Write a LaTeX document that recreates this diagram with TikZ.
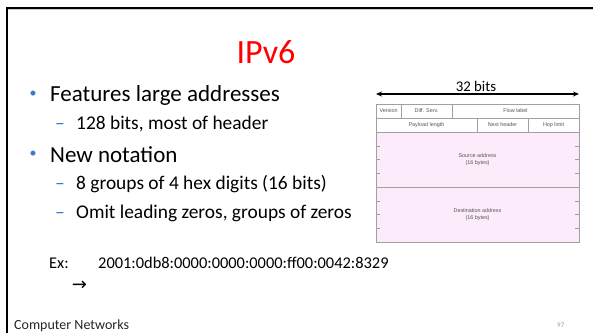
\documentclass[tikz,border=0pt]{standalone}
\usepackage{fontspec}
\setmainfont{Carlito}
\newfontfamily\arialf{Liberation Sans}
\newfontfamily\symf{DejaVu Sans}
\usetikzlibrary{arrows.meta,calc}
\definecolor{bulblue}{HTML}{3B78C8}
\definecolor{hdrfill}{HTML}{FCEBFA}
\definecolor{hdrline}{HTML}{A0A0A0}
\definecolor{hdrtext}{HTML}{555555}
\begin{document}
\begin{tikzpicture}[x=1pt,y=-1pt,
  bigtxt/.style={anchor=base west,inner sep=0pt,font=\fontsize{23}{26}\selectfont},
  subtxt/.style={anchor=base west,inner sep=0pt,font=\fontsize{19.4}{22}\selectfont},
  dashtxt/.style={anchor=base west,inner sep=0pt,text=bulblue,font=\fontsize{19.4}{22}\selectfont},
  bul/.style={anchor=center,inner sep=0pt,text=bulblue,font=\fontsize{14}{14}\selectfont},
  hdrbox/.style={draw=hdrline,line width=0.5pt,inner sep=0pt,outer sep=0pt,
    font=\arialf\fontsize{5.4}{6.5}\selectfont,text=hdrtext,align=center},
  tick/.style={draw=hdrline,line width=0.5pt}]
\useasboundingbox (0,0) rectangle (593,333);
\fill[white] (0,0) rectangle (593,333);
% slide frame
\draw[gray!40,line width=0.8pt] (8,9.8) -- (593,9.8);
\draw[black,line width=2pt] (7,333) -- (7,7.5) -- (593,7.5);
% title
\node[anchor=base,inner sep=0pt,text=red,font=\fontsize{34}{38}\selectfont] (title) at (266,63) {IPv6};
% bullets
\node[bul] (b1) at (33,94) {•};
\node[bigtxt] (t1) at (50,101) {Features large addresses};
\node[dashtxt] (d1) at (55,129) {–};
\node[subtxt] (s1) at (76,129) {128 bits, most of header};
\node[bul] (b2) at (33,154) {•};
\node[bigtxt] (t2) at (50,162) {New notation};
\node[dashtxt] (d2) at (55,189.5) {–};
\node[subtxt] (s2) at (76,189.5) {8 groups of 4 hex digits (16 bits)};
\node[dashtxt] (d3) at (55,218) {–};
\node[subtxt] (s3) at (76,218) {Omit leading zeros, groups of zeros};
% example
\node[anchor=base west,inner sep=0pt,font=\fontsize{16.4}{19}\selectfont] (ex) at (49,268) {Ex:};
\node[anchor=base west,inner sep=0pt,font=\fontsize{16.4}{19}\selectfont] (addr) at (98,268) {2001:0db8:0000:0000:0000:ff00:0042:8329};
\node[anchor=center,inner sep=0pt,font=\symf\fontsize{18}{20}\selectfont] (arr) at (79.5,286) {→};
% footer
\node[anchor=base west,inner sep=0pt,text=black!85,font=\fontsize{14}{16}\selectfont] (foot) at (14,329) {Computer Networks};
\node[anchor=base west,inner sep=0pt,text=black!40,font=\fontsize{7}{8}\selectfont] (pg) at (557,327) {97};
% 32 bits arrow
\coordinate (al) at (376,94);
\coordinate (ar) at (579,94);
\draw[line width=1.1pt,{Stealth[length=6pt,width=5pt]}-{Stealth[length=6pt,width=5pt]}] (al) -- (ar);
\node[anchor=base,inner sep=0pt,font=\fontsize{14.8}{17}\selectfont] (bits) at (476,91.5) {32 bits};
% header table
\fill[hdrfill] (376,132) rectangle (579,242);
\node[hdrbox,minimum width=25pt,minimum height=14pt,anchor=north west] (ver) at (376,104) {Version};
\node[hdrbox,minimum width=51pt,minimum height=14pt,anchor=north west] (ds) at (401,104) {Diff. Serv.};
\node[hdrbox,minimum width=127pt,minimum height=14pt,anchor=north west] (fl) at (452,104) {Flow label};
\node[hdrbox,minimum width=101pt,minimum height=14pt,anchor=north west] (pl) at (376,118) {Payload length};
\node[hdrbox,minimum width=51pt,minimum height=14pt,anchor=north west] (nh) at (477,118) {Next header};
\node[hdrbox,minimum width=51pt,minimum height=14pt,anchor=north west] (hl) at (528,118) {Hop limit};
\node[hdrbox,fill=hdrfill,minimum width=203pt,minimum height=55pt,anchor=north west] (src) at (376,132) {Source address\\(16 bytes)};
\node[hdrbox,fill=hdrfill,minimum width=203pt,minimum height=55pt,anchor=north west] (dst) at (376,187) {Destination address\\(16 bytes)};
\foreach \n in {src,dst}{
  \foreach \f in {0.25,0.5,0.75}{
    \draw[tick] ($(\n.north west)!\f!(\n.south west)$) -- ++(4,0);
    \draw[tick] ($(\n.north east)!\f!(\n.south east)$) -- ++(-4,0);
  }
}
\end{tikzpicture}
\end{document}
